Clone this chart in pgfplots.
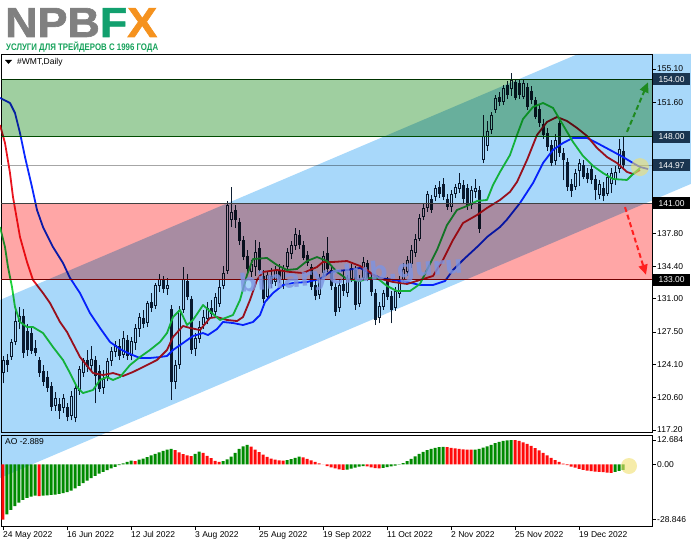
\documentclass[border=0pt]{standalone}
\usepackage{fontspec}
\setmainfont{Liberation Sans}
\newfontfamily\logofont[BoldFeatures={FakeBold=1.5}]{Liberation Sans}
\newfontfamily\wmfont{DejaVu Sans}
\usepackage{pgfplots}
\pgfplotsset{compat=1.18}
\usepackage{pgfplotstable}
\usetikzlibrary{arrows.meta}

\definecolor{chanblue}{HTML}{A8D8FA}
\definecolor{zgreen}{HTML}{9FCFA0}
\definecolor{zred}{HTML}{FFA6A6}
\definecolor{jaw}{HTML}{0A28FF}
\definecolor{teeth}{HTML}{E8141E}
\definecolor{lips}{HTML}{1ED23C}
\definecolor{cdark}{HTML}{0F1E30}
\definecolor{aog}{HTML}{008A00}
\definecolor{aor}{HTML}{FF0A0A}
\definecolor{npbgray}{HTML}{808080}
\definecolor{fxgreen}{HTML}{12A06E}
\definecolor{fxorange}{HTML}{F5921E}
\definecolor{subgreen}{HTML}{15A15A}
\definecolor{lblbox}{HTML}{1A3550}
\definecolor{arrgreen}{HTML}{1F8A1F}
\definecolor{arrred}{HTML}{FF2020}
\definecolor{wmblue}{HTML}{7D94E2}
\definecolor{hilite}{HTML}{F0E070}

\newcommand\tickfont{\fontsize{8.5}{9}\selectfont}
\tikzset{pbox/.style={anchor=west, text=white, inner sep=0pt, minimum width=37pt,
  minimum height=12pt, font=\tickfont, xshift=1pt}}
\pgfplotsset{candle/.style={forget plot, draw=none, mark=none,
  error bars/.cd, y explicit, error mark=none}}

% bullish candles: bar index, open, high, low, close
\pgfplotstableread{
i O H L C
0 123.2 125.0 122.1 124.5
2 124.9 126.8 124.6 126.4
3 126.4 129.8 126.1 128.6
4 128.5 130.1 127.8 129.2
13 119.7 121.2 119.2 120.6
15 119.5 121.0 119.0 120.6
17 118.7 121.3 118.2 120.8
18 118.5 121.9 118.0 121.6
19 121.3 123.9 120.9 123.6
20 123.2 124.8 122.8 124.6
22 123.9 126.0 123.5 124.7
25 121.6 123.5 121.0 122.6
26 122.8 124.8 122.3 124.4
27 124.4 125.9 123.9 125.5
28 125.4 126.5 124.9 126.1
30 125.1 127.6 124.8 126.9
32 125.0 127.0 124.5 126.5
33 126.3 128.3 125.6 127.9
34 127.8 129.5 127.0 129.1
36 128.4 130.7 128.0 130.5
38 130.2 132.6 129.9 132.4
39 132.3 133.6 131.7 133.0
41 132.0 133.2 131.4 132.4
43 122.2 124.5 121.5 124.0
44 124.0 130.2 123.6 129.8
45 129.8 134.3 129.5 133.0
48 125.7 127.4 125.0 126.9
49 126.8 128.6 126.3 128.0
50 128.2 129.8 127.8 129.1
51 128.9 130.6 128.3 130.0
53 129.6 131.6 129.3 131.2
54 130.4 133.0 130.1 132.2
55 132.3 134.4 132.0 133.7
56 133.9 141.2 133.6 140.8
57 139.2 142.7 138.5 140.1
62 133.8 135.0 133.3 134.6
63 134.3 137.1 133.4 135.9
66 131.2 133.9 130.9 133.5
68 132.7 134.4 132.3 134.0
70 133.0 134.5 132.0 134.2
71 134.3 136.3 133.9 135.9
72 135.7 137.0 135.2 136.6
73 136.5 138.4 136.1 137.8
79 131.4 133.6 131.0 133.2
80 133.7 136.0 133.4 135.5
84 130.0 132.9 129.6 132.4
86 131.6 133.5 131.2 133.0
87 133.1 134.6 132.7 134.2
89 130.4 133.5 130.1 133.1
90 133.2 135.4 132.8 134.8
94 129.0 130.6 128.4 130.2
95 130.1 131.9 129.8 131.6
98 130.0 132.2 129.7 131.8
99 131.5 133.4 131.1 133.0
100 133.0 134.7 132.6 134.1
101 133.8 135.5 133.4 135.0
102 134.6 136.6 134.2 136.1
103 135.8 137.8 135.4 137.2
104 137.3 139.9 137.0 139.5
105 139.6 141.0 139.2 140.5
106 140.5 142.3 140.1 142.0
108 141.7 142.9 141.2 142.6
112 140.6 142.4 140.1 142.0
113 142.0 143.0 141.6 142.7
114 142.5 144.2 142.1 143.1
117 140.8 142.8 140.4 142.4
118 142.2 143.5 141.6 142.6
120 145.5 150.3 145.2 148.1
121 147.0 149.6 146.5 148.6
122 148.7 150.6 148.3 150.3
123 150.8 152.4 150.5 152.1
125 151.6 153.4 151.3 153.1
127 153.0 154.7 152.3 153.9
130 152.2 154.0 151.9 153.6
138 145.4 148.3 145.0 147.6
143 142.7 144.6 142.4 144.2
144 144.4 145.6 142.8 145.2
149 141.9 143.4 141.5 143.0
151 142.0 144.2 141.8 143.8
152 143.0 144.7 142.1 144.2
153 143.4 144.9 142.9 144.3
154 144.6 147.7 144.2 146.7
}\bull

% bearish candles
\pgfplotstableread{
i O H L C
1 124.6 125.2 123.3 124.0
5 129.2 129.9 124.8 125.3
6 127.6 128.3 125.0 125.6
7 127.4 128.0 125.2 125.5
8 125.8 126.6 125.0 125.3
9 124.5 124.9 122.8 123.2
10 123.4 124.0 121.8 122.2
11 122.8 123.4 121.2 121.6
12 121.8 122.2 119.2 119.6
14 119.9 120.6 118.4 119.2
16 119.6 120.0 118.1 118.6
21 124.5 125.6 123.3 123.8
23 124.6 125.0 120.0 122.9
24 123.4 124.0 121.2 121.5
29 126.0 126.8 124.6 125.0
31 126.7 127.2 124.6 125.0
35 129.0 129.8 127.9 128.3
37 130.6 131.6 129.6 130.0
40 132.9 133.4 131.6 132.0
42 129.9 130.3 120.4 122.2
46 132.8 133.6 130.8 131.2
47 131.0 131.3 125.2 125.6
52 130.0 130.8 129.0 129.4
58 140.3 140.8 138.4 139.2
59 139.0 139.5 136.6 137.0
60 137.1 137.6 135.0 135.4
61 135.5 136.1 133.8 134.1
64 136.3 136.9 133.7 134.0
65 133.4 134.0 130.5 131.0
67 133.4 134.2 132.1 132.5
69 134.0 134.6 132.6 133.0
74 137.7 138.2 136.2 136.6
75 136.6 137.0 135.0 135.3
76 135.6 136.0 134.4 134.7
77 134.3 134.6 131.9 132.2
78 132.4 133.0 130.8 131.3
81 135.8 137.5 133.8 134.1
82 134.0 134.5 131.9 132.3
83 132.2 132.6 129.2 129.6
85 132.5 134.0 131.3 131.8
88 134.0 134.4 129.8 130.3
91 134.7 135.0 132.8 133.2
92 133.1 133.6 131.3 131.7
93 131.6 132.0 128.2 128.8
96 132.8 133.3 130.9 131.2
97 131.3 131.8 128.4 129.8
107 141.4 141.9 140.0 140.3
109 142.7 143.3 141.6 142.0
110 143.0 143.7 141.3 141.7
111 141.5 142.0 140.3 140.6
115 142.9 143.4 141.0 141.4
116 142.6 143.0 140.3 140.7
119 142.4 142.8 137.9 138.3
124 152.2 152.7 151.2 151.6
126 153.4 153.8 152.0 152.4
128 153.7 154.1 151.8 152.1
129 153.6 154.0 152.0 152.4
131 153.2 153.6 150.8 151.1
132 152.8 153.3 151.4 151.8
133 151.8 152.2 149.8 150.1
134 150.9 151.4 149.0 149.4
135 149.3 149.9 147.8 148.2
136 148.4 148.9 146.5 146.9
137 147.1 147.6 144.9 145.2
139 149.4 150.0 145.9 146.3
140 146.3 146.8 143.4 145.5
141 145.3 145.8 142.3 142.7
142 143.0 143.6 141.7 142.3
145 145.0 145.5 143.5 143.8
146 144.2 144.7 143.1 143.5
147 144.6 145.0 143.0 143.4
148 143.6 144.0 141.3 142.4
150 142.6 143.2 141.2 141.8
155 146.5 148.0 144.6 144.97
}\bear

% Awesome Oscillator, rising bars
\pgfplotstableread{
i v
1 -26.2
2 -23.8
3 -21.8
4 -20.0
5 -18.6
6 -17.6
7 -16.9
8 -16.4
10 -16.4
11 -16.2
12 -16.0
13 -15.8
14 -15.5
15 -15.1
16 -14.5
17 -13.7
18 -12.6
19 -11.3
20 -9.9
21 -8.5
22 -7.2
23 -6.0
24 -4.9
25 -3.9
26 -3.0
27 -2.2
28 -1.3
29 -0.4
30 0.5
31 1.2
32 1.9
34 2.4
35 3.0
36 3.8
37 4.6
38 5.4
39 6.2
40 7.0
41 7.6
42 8.1
48 5.4
49 6.6
55 1.6
56 2.6
57 4.0
58 6.0
59 8.0
60 9.3
61 10.2
71 2.2
72 2.7
73 3.3
74 4.0
86 -2.8
87 -2.3
88 -1.7
89 -1.2
90 -1.0
95 -1.9
96 -1.5
97 -1.1
98 -0.7
99 -0.2
100 0.6
101 1.6
102 2.8
103 4.1
104 5.4
105 6.5
106 7.4
107 8.1
108 8.6
109 9.0
110 9.1
118 7.7
119 8.1
120 8.7
121 9.4
122 10.2
123 11.0
124 11.7
125 12.2
126 12.5
127 12.684
153 -3.9
154 -3.4
155 -2.889
}\aoup

% Awesome Oscillator, falling bars
\pgfplotstableread{
i v
0 -28.846
9 -16.6
33 1.7
43 7.4
44 6.2
45 5.3
46 4.7
47 4.2
50 5.9
51 4.4
52 3.2
53 1.8
54 1.2
62 9.2
63 7.6
64 6.3
65 5.0
66 3.9
67 3.0
68 2.4
69 2.0
70 1.9
75 3.6
76 2.8
77 2.0
78 1.2
79 0.5
80 -0.1
81 -0.9
82 -1.6
83 -2.2
84 -2.7
85 -2.9
91 -1.1
92 -1.6
93 -2.0
94 -2.2
111 8.9
112 8.6
113 8.3
114 8.0
115 7.8
116 7.7
117 7.6
128 12.6
129 12.2
130 11.5
131 10.6
132 9.6
133 8.5
134 7.3
135 6.0
136 4.7
137 3.4
138 2.2
139 1.2
140 0.3
141 -0.5
142 -1.2
143 -1.8
144 -2.4
145 -2.9
146 -3.3
147 -3.6
148 -3.8
149 -4.0
150 -4.1
151 -4.3
152 -4.5
}\aodn

\begin{document}
\begin{tikzpicture}[x=1pt,y=1pt]
\useasboundingbox (0,0) rectangle (691,549);

% ---------------- main price panel ----------------
\begin{axis}[
    at={(1pt,117pt)}, anchor=south west,
    width=651pt, height=378pt, scale only axis,
    xmin=-0.5, xmax=162.25,
    ymin=116.99, ymax=156.675,
    clip=false,
    axis line style={draw=black, line width=0.8pt},
    xtick=\empty,
    ytick={155.1,151.6,137.8,134.4,131,127.5,124.1,120.6,117.2},
    yticklabels={155.10,151.60,137.80,134.40,131.00,127.50,124.10,120.60,117.20},
    ytick pos=right, yticklabel pos=right,
    tick align=outside, major tick length=4pt,
    tick style={draw=black, line width=0.6pt},
    yticklabel style={font=\tickfont, inner sep=1pt},
]
% bid line
\addplot[forget plot, color=gray!70, line width=0.7pt] coordinates {(-0.5,144.97) (162.25,144.97)};

% wicks
\addplot[candle, y dir=plus, error bar style={line width=1pt, draw=cdark, solid}]
    table[x=i, y=L, y error plus expr=\thisrow{H}-\thisrow{L}] {\bull};
\addplot[candle, y dir=plus, error bar style={line width=1pt, draw=cdark, solid}]
    table[x=i, y=L, y error plus expr=\thisrow{H}-\thisrow{L}] {\bear};
% bodies
\addplot[candle, y dir=minus, error bar style={line width=3pt, draw=cdark, solid}]
    table[x=i, y=O, y error minus expr=\thisrow{O}-\thisrow{C}] {\bear};
\addplot[candle, y dir=minus, error bar style={line width=3pt, draw=cdark, solid}]
    table[x=i, y=C, y error minus expr=\thisrow{C}-\thisrow{O}] {\bull};
\addplot[candle, y dir=minus, error bar style={line width=1pt, draw=white, solid}]
    table[x=i, y expr=\thisrow{C}-0.1, y error minus expr=\thisrow{C}-\thisrow{O}-0.2] {\bull};

% Alligator: jaw, teeth, lips
\addplot[forget plot, color=jaw, line width=1.8pt, line join=round] coordinates {
(-0.75,152.06) (1.75,151.53) (3,150.48) (4.25,148.38) (5.5,145.86) (7.25,142.71) (8.5,140.30) (10,138.51) (12.5,136.41) (15,134.73) (16.75,133.16) (19.25,131.58) (21.75,129.48) (24.25,127.91) (26.75,126.44) (29.25,125.70) (31.75,125.18) (34.25,124.76) (36.75,124.76) (39.25,124.86) (41,124.97) (42.5,125.60) (45,126.33) (47.5,127.07) (50,127.38) (51.25,127.17) (53.5,127.80) (55,128.54) (57.5,128.43) (60,128.22) (62.5,128.54) (64.25,129.27) (65.5,130.64) (67.5,131.58) (70,132.42) (72.5,132.63) (76,132.74) (79.25,133.05) (81.75,133.79) (86,134.00) (89.25,134.21) (91.75,133.68) (94.25,133.16) (97.5,132.95) (101,132.74) (104.25,132.42) (107.5,132.42) (110.5,132.84) (112.5,134.00) (115,135.05) (118.5,136.41) (121,137.46) (124.25,138.51) (126,139.3) (129.25,141.03) (132.5,143.13) (135,145.23) (137.5,146.60) (140,147.33) (142.5,147.86) (146,147.86) (148.5,147.33) (151.75,146.60) (155,145.86) (157.5,145.23) (159.25,144.81) (161.25,144.60)};
\addplot[forget plot, color=teeth, line width=1.8pt, line join=round] coordinates {
(-0.75,149.22) (0.5,147.33) (1.75,144.18) (2.5,141.66) (4.25,137.46) (6,134.84) (7.5,132.95) (10,131.58) (11.75,130.53) (14.25,128.54) (16,127.49) (19.25,124.86) (22.5,123.18) (25,122.97) (27.5,123.18) (30,122.87) (32.5,123.29) (36,124.02) (38.5,124.55) (41,125.60) (42.5,126.96) (45,128.12) (46.75,127.91) (49.25,127.70) (51.75,128.96) (53.5,129.06) (56,128.75) (58.5,128.64) (60,129.06) (61.75,130.85) (63.5,132.95) (65,133.79) (68.5,134.00) (71.75,133.79) (75,133.68) (78.5,134.31) (80,134.84) (82.5,134.84) (86,134.94) (89.25,134.42) (91,134.00) (93.5,133.16) (97.5,132.74) (101,132.53) (104.25,132.95) (107.5,133.37) (110,135.05) (112.5,137.15) (115,138.93) (118.5,139.77) (121,140.51) (124.25,141.35) (126.75,142.2) (128.5,143.24) (131,145.55) (133.5,148.17) (136,149.54) (138.5,150.06) (141,149.64) (143.5,148.91) (146,148.07) (148.5,146.81) (151,145.86) (153.5,145.23) (156,144.29) (157.5,144.08) (159.25,144.50)};
\addplot[forget plot, color=lips, line width=1.8pt, line join=round] coordinates {
(-0.75,138.51) (0.5,136.41) (1.25,134.31) (2.25,132.21) (3,130.11) (4.25,128.54) (6,128.01) (7.5,128.01) (10,127.38) (12.5,125.91) (15,124.55) (16.75,123.18) (18.5,121.71) (20,121.08) (22.5,121.40) (24.25,122.45) (26,122.76) (27.5,122.45) (29.25,122.76) (31.75,124.02) (34.25,124.86) (36.75,125.60) (39.25,126.44) (41,127.38) (42.5,129.06) (44.25,129.80) (46,128.22) (47.5,128.75) (50,130.32) (52.5,129.38) (54.25,128.75) (57.5,129.27) (59.25,130.85) (61,133.47) (62.5,135.15) (66,135.26) (68.5,134.52) (71,134.00) (73.5,134.10) (76,134.94) (78.5,135.36) (81,134.94) (83.5,133.79) (86,133.05) (89.25,132.84) (91.75,133.16) (93.5,133.16) (96,132.32) (98.5,131.79) (101.75,131.79) (104.25,132.53) (106,134.00) (108.5,136.10) (111,138.72) (113.5,140.30) (116,140.72) (118.5,141.24) (121,141.35) (122.5,142.92) (124.25,144.29) (126.75,146.07) (128.5,148.17) (130,149.85) (132.5,151.11) (135,151.53) (137.5,151.01) (140,149.22) (142.5,147.44) (145,145.97) (147.5,144.92) (150,144.18) (152.5,143.55) (156,143.45) (157.25,143.97) (159.25,144.71)};

% regression channel and zones, multiplied over the chart
\addplot[forget plot, fill=chanblue, draw=none, blend mode=multiply] coordinates {
(-0.75,130.85) (143.75,156.675) (172,156.675) (172,143.04) (-0.75,112.16)} -- cycle;
\addplot[forget plot, fill=zgreen, draw=none, blend mode=multiply] coordinates {
(-0.5,148) (162.25,148) (162.25,154) (-0.5,154)} -- cycle;
\addplot[forget plot, fill=zred, draw=none, blend mode=multiply] coordinates {
(-0.5,133) (162.25,133) (162.25,141) (-0.5,141)} -- cycle;

% level lines
\addplot[forget plot, color=black!80!green, line width=1pt] coordinates {(-0.5,154) (162.25,154)};
\addplot[forget plot, color=black!70!green, line width=1pt] coordinates {(-0.5,148) (162.25,148)};
\addplot[forget plot, color=black!75, line width=1.2pt] coordinates {(-0.5,141) (162.25,141)};
\addplot[forget plot, color=black!55!red, line width=1.2pt] coordinates {(-0.5,133) (162.25,133)};

% forecast arrows and highlight
\draw[arrgreen, line width=2pt, dash pattern=on 5pt off 3pt, -{Triangle[length=10pt,width=9pt]}]
    (axis cs:156,148.5) -- (axis cs:161.25,153.7);
\draw[arrred, line width=2pt, dash pattern=on 5pt off 3pt, -{Triangle[length=10pt,width=9pt]}]
    (axis cs:155.5,140.6) -- (axis cs:160.75,133.5);
\fill[hilite, opacity=0.6] (axis cs:159.25,144.8) circle[radius=9pt];

% watermark
\node[rotate=5, text=wmblue, opacity=0.8, font=\wmfont\bfseries\fontsize{25}{25}\selectfont]
    at (axis cs:87,133.4) {binaryclub.guru};

% price boxes
\node[pbox, fill=lblbox] at (axis cs:162.25,154) {154.00};
\node[pbox, fill=lblbox] at (axis cs:162.25,148) {148.00};
\node[pbox, fill=lblbox] at (axis cs:162.25,144.97) {144.97};
\node[pbox, fill=black] at (axis cs:162.25,141) {141.00};
\node[pbox, fill=black] at (axis cs:162.25,133) {133.00};
\end{axis}

% ---------------- AO panel ----------------
\begin{axis}[
    at={(1pt,23pt)}, anchor=south west,
    width=651pt, height=91pt, scale only axis,
    xmin=-0.5, xmax=162.25,
    ymin=-32.24, ymax=15.3,
    clip=false,
    axis line style={draw=black, line width=0.8pt},
    ytick={12.684,0,-28.846},
    yticklabels={12.684,0.00,-28.846},
    ytick pos=right, yticklabel pos=right,
    xtick={0,16,...,144},
    xticklabels={24 May 2022,16 Jun 2022,12 Jul 2022,3 Aug 2022,25 Aug 2022,19 Sep 2022,11 Oct 2022,2 Nov 2022,25 Nov 2022,19 Dec 2022},
    xtick pos=bottom,
    tick align=outside, major tick length=4pt,
    tick style={draw=black, line width=0.6pt},
    yticklabel style={font=\tickfont, inner sep=1pt},
    xticklabel style={font=\tickfont, anchor=north west, xshift=-1pt, inner sep=1pt},
]
\addplot[forget plot, ybar, bar width=3pt, bar shift=0pt, fill=aog, draw=none] table[x=i, y=v] {\aoup};
\addplot[forget plot, ybar, bar width=3pt, bar shift=0pt, fill=aor, draw=none] table[x=i, y=v] {\aodn};
\fill[hilite, opacity=0.6] (axis cs:156.5,-0.9) circle[radius=8pt];
\node[anchor=north west, font=\tickfont, inner sep=0pt] at ([xshift=4pt,yshift=-3pt]rel axis cs:0,1) {AO -2.889};
\end{axis}

% ---------------- header ----------------
\node[anchor=base west, inner sep=0pt] at (5pt,512pt)
  {\resizebox{152pt}{\height}{\fontsize{42}{42}\selectfont\logofont\bfseries\textcolor{npbgray}{NPB}\textcolor{fxgreen}{F}\textcolor{fxorange}{X}}};
\node[anchor=base west, inner sep=0pt] at (6pt,498pt)
  {\resizebox{152pt}{\height}{\fontsize{9.5}{10}\selectfont\bfseries\color{subgreen}УСЛУГИ ДЛЯ ТРЕЙДЕРОВ С 1996 ГОДА}};
\fill (5pt,489pt) -- (12pt,489pt) -- (8.5pt,485pt) -- cycle;
\node[anchor=base west, inner sep=0pt, font=\tickfont] at (17pt,484pt) {\#WMT,Daily};
\end{tikzpicture}
\end{document}
